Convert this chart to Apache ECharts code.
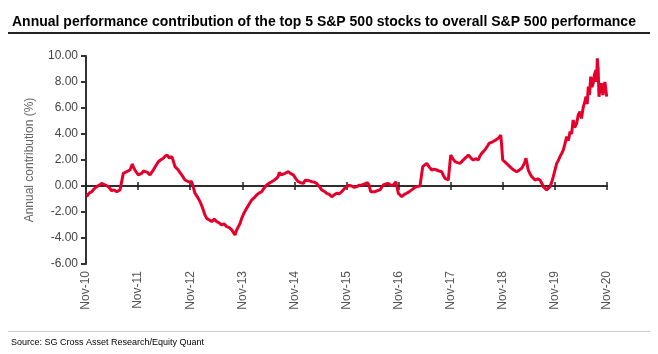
<!DOCTYPE html>
<html>
<head>
<meta charset="utf-8">
<script src="https://cdn.jsdelivr.net/npm/echarts@6/dist/echarts.min.js"></script>
<style>
  html, body { margin: 0; padding: 0; background: #fff; }
  #main { width: 658px; height: 354px; }
</style>
</head>
<body>
<div id="main"></div>
<script>
// x position in years since Nov-10, value in %
var yearPos = [
  0.013, 0.06, 0.109, 0.15, 0.205, 0.25, 0.301, 0.35, 0.397, 0.44,
  0.493, 0.54, 0.589, 0.653, 0.69, 0.716, 0.75, 0.781, 0.81, 0.845,
  0.889, 0.91, 0.940, 0.97, 1.004, 1.04, 1.069, 1.10, 1.132, 1.18,
  1.228, 1.26, 1.292, 1.34, 1.388, 1.43, 1.484, 1.52, 1.560, 1.60,
  1.645, 1.67, 1.708, 1.74, 1.772, 1.80, 1.837, 1.87, 1.900, 1.93,
  1.964, 2.00, 2.029, 2.06, 2.092, 2.14, 2.188, 2.22, 2.251, 2.28,
  2.317, 2.36, 2.413, 2.46, 2.509, 2.56, 2.605, 2.65, 2.701, 2.75,
  2.797, 2.83, 2.860, 2.89, 2.924, 2.96, 2.988, 3.03, 3.084, 3.13,
  3.180, 3.23, 3.276, 3.32, 3.372, 3.42, 3.468, 3.51, 3.564, 3.61,
  3.660, 3.690, 3.710, 3.750, 3.787, 3.820, 3.85, 3.883, 3.93, 3.979,
  4.03, 4.075, 4.12, 4.171, 4.21, 4.248, 4.29, 4.332, 4.38, 4.428,
  4.48, 4.524, 4.57, 4.620, 4.67, 4.716, 4.76, 4.812, 4.86, 4.908,
  4.96, 5.004, 5.05, 5.100, 5.15, 5.196, 5.24, 5.292, 5.35, 5.399,
  5.43, 5.464, 5.50, 5.547, 5.60, 5.643, 5.706, 5.75, 5.802, 5.85,
  5.898, 5.950, 5.994, 6.02, 6.060, 6.11, 6.155, 6.20, 6.251, 6.30,
  6.347, 6.411, 6.463, 6.50, 6.540, 6.59, 6.635, 6.68, 6.731, 6.78,
  6.827, 6.86, 6.891, 6.954, 6.98, 7.000, 7.04, 7.083, 7.13, 7.179,
  7.23, 7.274, 7.31, 7.338, 7.39, 7.434, 7.48, 7.530, 7.56, 7.595,
  7.64, 7.678, 7.71, 7.741, 7.78, 7.818, 7.87, 7.914, 7.94, 7.960,
  7.975, 7.998, 8.04, 8.075, 8.12, 8.171, 8.22, 8.267, 8.31, 8.363,
  8.42, 8.445, 8.489, 8.52, 8.555, 8.59, 8.618, 8.67, 8.714, 8.75,
  8.777, 8.81, 8.842, 8.87, 8.906, 8.94, 8.969, 9.00, 9.035, 9.07,
  9.098, 9.13, 9.161, 9.19, 9.226, 9.26, 9.290, 9.32, 9.351, 9.38,
  9.418, 9.45, 9.482, 9.51, 9.545, 9.57, 9.597, 9.62, 9.641, 9.665,
  9.687, 9.71, 9.735, 9.76, 9.789, 9.80, 9.814, 9.83, 9.846, 9.87,
  9.898, 9.92, 9.942, 9.96, 9.994
];
var contribution = [
  -0.82, -0.55, -0.44, -0.25, -0.05, 0.05, 0.20, 0.10, 0.03, -0.10,
  -0.36, -0.30, -0.44, -0.30, -0.20, 0.97, 0.85, 1.10, 1.00, 1.23,
  1.69, 1.45, 1.23, 1.05, 0.85, 1.00, 0.97, 1.15, 1.23, 1.05,
  0.85, 1.05, 1.23, 1.55, 1.87, 2.00, 2.13, 2.30, 2.38, 2.15,
  2.26, 2.00, 1.49, 1.40, 1.23, 1.05, 0.85, 0.65, 0.46, 0.55,
  0.33, 0.40, 0.33, -0.10, -0.56, -0.85, -1.20, -1.50, -1.85, -2.20,
  -2.49, -2.60, -2.74, -2.55, -2.74, -2.85, -3.00, -2.90, -3.13, -3.20,
  -3.38, -3.30, -3.77, -3.40, -3.13, -2.85, -2.49, -2.10, -1.72, -1.40,
  -1.08, -0.90, -0.69, -0.55, -0.44, -0.15, 0.08, 0.20, 0.33, 0.45,
  0.59, 0.75, 1.05, 0.85, 0.72, 0.97, 0.90, 1.10, 0.95, 0.85,
  0.55, 0.33, 0.25, 0.20, 0.45, 0.59, 0.40, 0.33, 0.30, 0.20,
  -0.05, -0.30, -0.40, -0.56, -0.65, -0.82, -0.70, -0.56, -0.60, -0.44,
  -0.20, -0.05, 0.05, 0.00, -0.10, -0.05, 0.05, 0.08, 0.15, 0.26,
  0.10, -0.44, -0.35, -0.44, -0.35, -0.30, 0.08, 0.15, 0.20, 0.05,
  0.08, 0.33, -0.56, -0.70, -0.82, -0.65, -0.56, -0.45, -0.30, -0.15,
  -0.05, 0.00, 1.49, 1.60, 1.74, 1.45, 1.23, 1.30, 1.23, 1.15,
  1.10, 0.80, 0.59, 0.46, 0.55, 2.38, 2.10, 1.87, 1.80, 1.74,
  1.95, 2.13, 2.25, 2.38, 2.15, 2.00, 2.10, 2.00, 2.30, 2.51,
  2.70, 2.90, 3.10, 3.30, 3.35, 3.41, 3.55, 3.67, 3.80, 3.92,
  3.30, 2.00, 1.85, 1.74, 1.55, 1.36, 1.20, 1.10, 1.20, 1.36,
  1.80, 2.13, 1.23, 0.95, 0.72, 0.60, 0.46, 0.55, 0.46, 0.20,
  -0.05, -0.20, -0.30, -0.15, -0.05, 0.30, 0.72, 1.20, 1.74, 2.00,
  2.26, 2.50, 2.77, 3.20, 3.79, 3.50, 4.18, 4.00, 5.08, 4.50,
  4.82, 5.50, 5.72, 5.20, 6.10, 6.40, 6.87, 6.30, 7.64, 7.00,
  8.41, 7.60, 7.90, 8.60, 8.92, 8.00, 9.82, 9.00, 6.87, 7.60,
  7.90, 7.00, 7.64, 8.00, 6.87
];
var tickLabels = ['Nov-10', 'Nov-11', 'Nov-12', 'Nov-13', 'Nov-14', 'Nov-15',
  'Nov-16', 'Nov-17', 'Nov-18', 'Nov-19', 'Nov-20'];

var seriesData = yearPos.map(function (x, i) { return [x, contribution[i]]; });

var myChart = echarts.init(document.getElementById('main'));

var option = {
  animation: false,
  textStyle: { fontFamily: 'Liberation Sans, Arial, sans-serif' },
  title: [{
    text: 'Annual performance contribution of the top 5 S&P 500 stocks to overall S&P 500 performance',
    left: 7, top: 10,
    textStyle: { fontSize: 14, fontWeight: 'bold', color: '#000', fontFamily: 'Liberation Sans, Arial, sans-serif' }
  }, {
    text: 'Source: SG Cross Asset Research/Equity Quant',
    left: 6, top: 333,
    textStyle: { fontSize: 9, fontWeight: 'normal', color: '#000', fontFamily: 'Liberation Sans, Arial, sans-serif' }
  }],
  graphic: [
    { type: 'rect', shape: { x: 8, y: 32, width: 642, height: 2 }, style: { fill: '#222' } },
    { type: 'rect', shape: { x: 8, y: 331, width: 642, height: 1 }, style: { fill: '#ccc' } }
  ],
  grid: { left: 86, right: 51, top: 56, bottom: 90 },
  xAxis: [{
    type: 'value', min: 0, max: 10, interval: 1, position: 'bottom',
    axisLine: { show: false, onZero: false },
    axisTick: { show: false },
    splitLine: { show: false },
    axisLabel: {
      rotate: 90, color: '#555', fontSize: 12, margin: 7,
      formatter: function (v) { return tickLabels[Math.round(v)]; }
    }
  }, {
    type: 'value', min: 0, max: 10, interval: 1, position: 'bottom',
    axisLine: { show: true, onZero: true, onZeroAxisIndex: 0, lineStyle: { color: '#222', width: 1.5 } },
    axisTick: { show: true, length: 4, lineStyle: { color: '#222', width: 1.5 } },
    axisLabel: { show: false },
    splitLine: { show: false }
  }, {
    type: 'value', min: 0, max: 10, interval: 1, position: 'top',
    axisLine: { show: true, onZero: true, onZeroAxisIndex: 1, lineStyle: { color: '#222', width: 1.5 } },
    axisTick: { show: true, length: 4, lineStyle: { color: '#222', width: 1.5 } },
    axisLabel: { show: false },
    splitLine: { show: false }
  }],
  yAxis: [{
    type: 'value', min: -6, max: 10, interval: 2,
    name: 'Annual contribution (%)',
    nameLocation: 'middle', nameGap: 50, nameRotate: 90,
    nameTextStyle: { color: '#666', fontSize: 12 },
    axisLine: { show: true, onZero: false, lineStyle: { color: '#333', width: 2 } },
    axisTick: { show: true, length: 5, lineStyle: { color: '#333', width: 2 } },
    axisLabel: {
      color: '#444', fontSize: 12, margin: 8,
      formatter: function (v) { return v.toFixed(2); }
    },
    splitLine: { show: false }
  }, {
    type: 'value', min: -6, max: 10, interval: 2, position: 'left',
    axisLine: { show: false, onZero: false },
    axisTick: { show: false },
    axisLabel: { show: false },
    splitLine: { show: false }
  }],
  series: [{
    type: 'line',
    xAxisIndex: 0,
    yAxisIndex: 0,
    data: seriesData,
    showSymbol: false,
    lineStyle: { color: '#e4002b', width: 3 },
    z: 3
  }]
};

myChart.setOption(option);
</script>
</body>
</html>
